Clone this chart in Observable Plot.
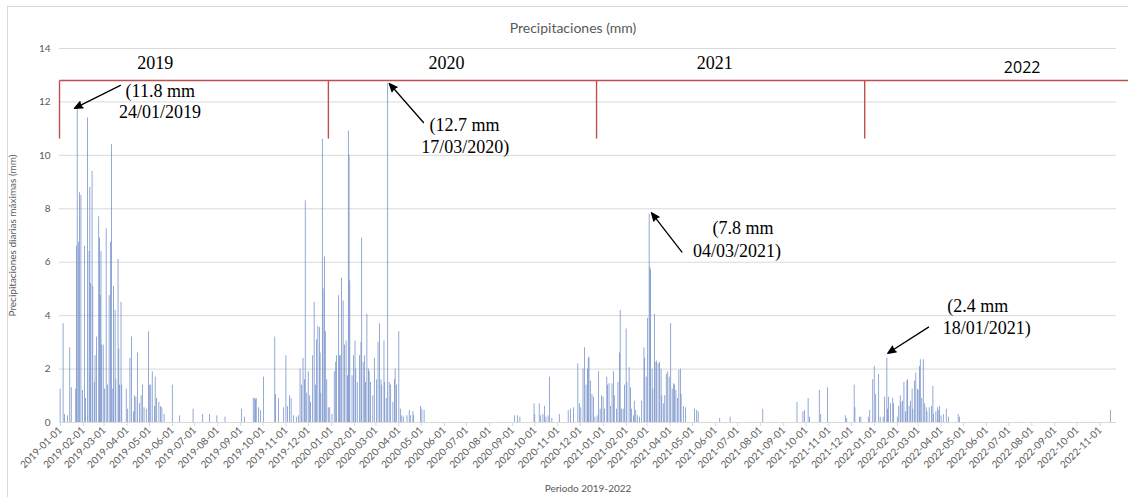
<!DOCTYPE html>
<html><head><meta charset="utf-8">
<script src="https://cdn.jsdelivr.net/npm/d3@7"></script>
<script src="https://cdn.jsdelivr.net/npm/@observablehq/plot@0.6"></script>
<style>
body{margin:0;background:#fff;}
#wrap{position:relative;width:1128px;height:497px;overflow:hidden;}
#frame{position:absolute;left:7px;top:6px;width:1200px;height:600px;border-left:1px solid #d9d9d9;border-top:1px solid #d9d9d9;}
#chart{position:absolute;left:0;top:0;}
</style></head><body><div id="wrap"><div id="frame"></div><div id="chart"></div></div>
<script>
// ---- data: day index (0 = 2019-01-01) and daily maximum precipitation (mm)
const startDate = "2019-01-01";
const days = [
0,4,6,10,13,15,21,22,23,25,26,28,30,33,34,37,39,40,41,43,44,46,47,49,52,53,54,55,56,58,60,62,64,66,68,69,71,72,74,75,78,79,80,82,83,89,91,94,96,99,100,102,104,107,109,111,113,116,119,120,122,124,127,128,130,133,135,137,140,151,161,179,192,201,211,222,
244,248,260,262,263,264,267,270,274,289,290,294,301,304,306,309,311,314,318,321,323,325,327,329,330,332,334,336,337,340,342,344,345,347,349,350,351,353,354,356,357,359,361,363,366,369,371,372,375,376,377,379,381,383,385,387,388,389,390,393,395,397,398,400,403,405,406,408,410,411,413,415,416,418,421,423,426,428,430,432,433,436,437,439,441,443,445,448,450,451,453,456,458,460,462,467,470,472,475,476,485,487,490,
612,616,619,638,639,645,647,650,652,654,657,659,662,672,684,687,691,697,699,701,704,706,708,710,711,712,714,716,718,720,723,725,727,729,731,733,736,737,739,741,743,745,746,749,751,753,754,756,758,760,762,763,766,768,769,772,773,775,777,780,783,786,787,789,791,793,794,795,797,798,800,801,803,805,807,809,810,812,814,816,818,820,822,824,826,827,829,831,833,835,836,839,842,854,857,859,
888,902,946,992,1000,1002,1007,1009,1022,1024,1033,1057,1059,1069,1070,1076,1078,1088,1090,1094,1096,1098,1102,1104,1108,1110,1113,1114,1115,1118,1121,1122,1127,1129,1131,1132,1134,1136,1138,1140,1141,1143,1145,1147,1148,1150,1152,1154,1155,1157,1158,1160,1162,1164,1166,1167,1170,1173,1175,1176,1179,1181,1183,1184,1186,1189,1193,1196,1209,1211,1414
];
const mm = [
1.25,3.7,0.3,0.25,2.8,1.3,1.25,6.6,11.8,6.75,8.6,8.5,1.2,6.6,0.9,11.4,6.4,8.8,5.2,9.4,5.1,1.5,2.5,3.2,7.7,6.9,4.75,6.4,2.9,2.9,1.25,7.25,1.4,4.75,6.75,10.4,1.25,5.1,4.2,1.6,6.1,2.75,1.4,4.5,1.4,1.25,0.5,2.4,3.2,0.4,1.0,0.95,2.6,0.7,1.0,1.4,0.55,0.5,3.4,1.4,1.4,1.9,0.6,1.7,0.9,0.75,0.6,0.55,0.3,1.4,0.25,0.5,0.3,0.3,0.25,0.2,
0.5,0.2,0.9,0.9,0.85,0.9,0.55,0.45,1.7,3.2,1.05,0.9,0.55,2.5,0.6,1.0,0.9,0.25,0.2,0.25,2.0,1.4,2.4,1.6,8.3,1.1,1.9,1.0,0.75,2.5,4.5,1.4,3.1,3.6,3.55,2.6,1.1,10.6,5.0,6.2,3.4,1.6,0.55,0.55,0.3,1.9,2.25,2.5,4.75,2.5,2.5,5.4,4.55,2.9,3.05,1.75,10.9,10.0,5.3,1.75,2.5,3.05,2.0,1.5,2.5,3.0,6.9,2.25,2.5,1.5,4.05,2.0,1.9,1.5,1.0,2.4,1.6,3.0,3.7,1.6,1.4,3.05,1.5,0.9,12.7,1.5,1.4,0.75,1.6,2.0,1.4,3.4,0.5,0.25,0.2,0.25,0.45,0.25,0.4,0.25,0.6,0.5,0.45,
0.25,0.25,0.2,0.7,0.3,0.7,0.25,0.3,0.6,0.2,0.25,1.7,0.15,0.3,0.45,0.5,0.55,2.2,0.7,0.55,2.0,2.8,1.4,2.0,2.4,2.45,1.55,1.05,0.95,0.2,0.25,1.9,0.5,1.0,0.95,0.5,1.7,1.4,1.45,0.6,1.45,1.9,1.0,0.5,1.5,2.6,4.2,0.5,0.5,1.4,3.5,1.5,2.05,1.3,0.5,0.25,0.8,0.45,0.25,0.2,0.8,2.8,2.4,1.7,3.9,7.8,5.8,5.7,2.0,1.25,4.05,2.25,2.3,2.2,2.25,2.0,1.0,0.7,1.0,1.8,1.9,1.7,3.7,1.25,1.45,1.4,1.2,0.9,1.95,2.0,1.05,0.6,0.55,0.5,0.45,0.4,
0.15,0.2,0.5,0.75,0.4,0.45,0.9,0.2,1.2,0.3,1.3,0.25,0.15,1.4,0.55,0.2,0.2,0.2,0.45,1.6,2.1,1.05,1.8,0.2,0.2,0.95,2.4,0.5,0.95,0.7,0.9,0.7,0.2,0.6,1.0,0.75,0.8,1.5,0.4,1.55,1.6,0.6,0.8,1.25,0.5,1.55,1.85,1.25,1.2,2.1,2.35,0.9,2.35,0.7,0.55,0.4,0.55,0.6,1.35,0.3,0.4,0.55,0.45,0.6,0.25,0.3,0.5,0.2,0.3,0.2,0.45
];
const yTicks = [0, 2, 4, 6, 8, 10, 12, 14];
const titleText = "Precipitaciones (mm)";
const xLabel = "Periodo 2019-2022";
const yLabel = "Precipitaciones diarias máximas (mm)";

// year brackets
const yearLabels = ["2019", "2020", "2021", "2022"];
const yearLabelDay = [128, 520, 881, 1295];
const yearLabelMm = [13.25, 13.25, 13.25, 13.07];
const bracketDays = [-1, 361, 722, 1083];
const bracketEndDay = 1438;
const bracketTopMm = 12.8;
const bracketBottomMm = 10.63;

// annotations
const arrowFromDay = [81, 489, 837, 1169];
const arrowFromMm = [12.62, 11.23, 6.38, 3.57];
const arrowToDay = [19, 443, 796, 1114];
const arrowToMm = [11.76, 12.69, 7.85, 2.59];
const noteText = ["(11.8 mm", "24/01/2019", "(12.7 mm", "17/03/2020)", "(7.8 mm", "04/03/2021)", "(2.4 mm", "18/01/2021)"];
const noteDay = [88, 79, 497, 486, 878, 852, 1194, 1188];
const noteMm = [12.17, 11.38, 10.93, 10.07, 7.04, 6.18, 4.12, 3.33];

// ---- build
const t0 = new Date(startDate + "T00:00:00Z");
const dayToDate = d => d3.utcDay.offset(t0, d);
const bars = days.map((d, i) => ({x1: dayToDate(d), x2: dayToDate(d + 1), v: mm[i]}));
const monthTicks = d3.utcMonth.range(dayToDate(0), dayToDate(1401));
const idx = n => d3.range(n);

const chart = Plot.plot({
  width: 1128, height: 497,
  marginLeft: 59, marginRight: 12, marginTop: 48, marginBottom: 75,
  style: {background: "transparent", fontFamily: "Lato, sans-serif", fontSize: "10px", color: "#595959", overflow: "visible"},
  x: {type: "utc", domain: [dayToDate(-1), dayToDate(1422)]},
  y: {domain: [0, 14]},
  marks: [
    Plot.gridY(yTicks, {stroke: "#d9d9d9", strokeOpacity: 1}),
    Plot.rect(bars, {x1: "x1", x2: "x2", y1: 0, y2: "v", fill: "#6f8cc8"}),
    Plot.ruleY([0], {stroke: "#d9d9d9", strokeWidth: 1}),
    Plot.axisX({ticks: monthTicks, tickFormat: d3.utcFormat("%Y-%m-%d"), tickRotate: -45, tickSize: 4, tickPadding: 2,
      stroke: "#d9d9d9", fill: "#595959", fontSize: 10, label: null}),
    Plot.axisY(yTicks, {tickSize: 0, tickPadding: 9, fill: "#595959", fontSize: 10, label: null}),
    Plot.text([titleText], {frameAnchor: "top", dx: -15, dy: -20, fontSize: 14, fill: "#595959", lineAnchor: "middle"}),
    Plot.text([xLabel], {frameAnchor: "bottom", dy: 66, fontSize: 10, fill: "#595959", lineAnchor: "middle"}),
    Plot.text([yLabel], {frameAnchor: "left", dx: -47, rotate: -90, fontSize: 10, fill: "#595959", lineAnchor: "middle", textAnchor: "middle"}),
    // red year brackets
    Plot.link([0], {x1: () => dayToDate(bracketDays[0]), x2: () => dayToDate(bracketEndDay), y1: () => bracketTopMm, y2: () => bracketTopMm, stroke: "#c0504d", strokeWidth: 1.4}),
    Plot.link(bracketDays, {x1: d => dayToDate(d), x2: d => dayToDate(d), y1: () => bracketTopMm, y2: () => bracketBottomMm, stroke: "#c0504d", strokeWidth: 1.4}),
    Plot.text(idx(3), {x: i => dayToDate(yearLabelDay[i]), y: i => yearLabelMm[i], text: i => yearLabels[i], fontFamily: "Liberation Serif", fontSize: 18, fill: "#000", lineAnchor: "bottom", textAnchor: "middle"}),
    Plot.text([3], {x: i => dayToDate(yearLabelDay[i]), y: i => yearLabelMm[i], text: i => yearLabels[i], fontFamily: "Open Sans", fontSize: 16, fill: "#000", lineAnchor: "bottom", textAnchor: "middle"}),
    // annotations
    Plot.arrow(idx(4), {x1: i => dayToDate(arrowFromDay[i]), y1: i => arrowFromMm[i], x2: i => dayToDate(arrowToDay[i]), y2: i => arrowToMm[i], stroke: "#000", fill: "#000", strokeWidth: 1.3, headLength: 10, headAngle: 45}),
    Plot.text(idx(noteText.length), {x: i => dayToDate(noteDay[i]), y: i => noteMm[i], text: i => noteText[i], fontFamily: "Liberation Serif", fontSize: 18, fill: "#000", lineAnchor: "bottom", textAnchor: "start"})
  ]
});
document.getElementById("chart").appendChild(chart);
</script>
</body></html>
